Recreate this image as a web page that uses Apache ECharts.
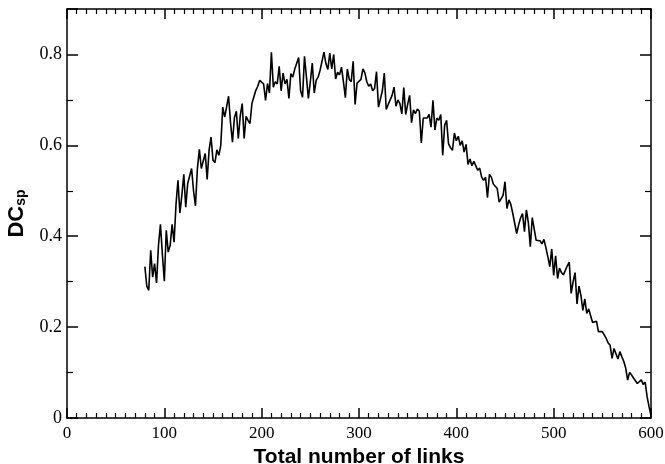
<!DOCTYPE html>
<html>
<head>
<meta charset="utf-8">
<script src="https://cdn.jsdelivr.net/npm/echarts@6/dist/echarts.min.js"></script>
<style>html,body{margin:0;padding:0;background:#fff}#c{width:665px;height:464px}</style>
</head>
<body>
<div id="c"></div>
<script>
// x grid: total number of links, sampled every 2 from 80 to 600
const xStart = 80, xStep = 2;
const dcsp = [
0.333,0.29,0.281,0.369,0.31,0.34,0.297,0.38,0.426,0.36,
0.301,0.413,0.365,0.38,0.426,0.387,0.47,0.523,0.451,0.49,
0.536,0.464,0.516,0.517,0.549,0.5,0.467,0.55,0.591,0.549,
0.545,0.582,0.525,0.59,0.618,0.567,0.562,0.59,0.578,0.6,
0.684,0.662,0.665,0.708,0.65,0.607,0.661,0.675,0.615,0.665,
0.692,0.615,0.664,0.655,0.648,0.692,0.69,0.721,0.73,0.743,
0.742,0.735,0.699,0.736,0.715,0.805,0.728,0.74,0.735,0.774,
0.72,0.759,0.735,0.745,0.703,0.758,0.75,0.768,0.772,0.793,
0.72,0.706,0.796,0.75,0.703,0.74,0.781,0.715,0.743,0.75,
0.765,0.785,0.805,0.78,0.767,0.803,0.768,0.8,0.746,0.761,
0.755,0.772,0.74,0.705,0.768,0.745,0.74,0.785,0.69,0.737,
0.735,0.745,0.768,0.76,0.74,0.73,0.735,0.72,0.725,0.762,
0.684,0.68,0.72,0.759,0.679,0.69,0.7,0.71,0.728,0.686,
0.7,0.692,0.669,0.727,0.668,0.69,0.71,0.65,0.678,0.67,
0.68,0.675,0.605,0.66,0.66,0.66,0.668,0.64,0.699,0.634,
0.66,0.655,0.668,0.578,0.644,0.655,0.603,0.595,0.589,0.627,
0.61,0.62,0.6,0.61,0.585,0.602,0.558,0.57,0.555,0.565,
0.569,0.545,0.55,0.53,0.523,0.53,0.485,0.536,0.53,0.515,
0.51,0.505,0.475,0.478,0.49,0.52,0.461,0.48,0.47,0.45,
0.452,0.406,0.425,0.44,0.45,0.41,0.458,0.43,0.377,0.441,
0.438,0.391,0.392,0.39,0.383,0.393,0.375,0.355,0.333,0.372,
0.314,0.357,0.307,0.33,0.32,0.315,0.318,0.335,0.343,0.274,
0.3,0.32,0.251,0.29,0.27,0.237,0.262,0.23,0.24,0.225,
0.21,0.21,0.213,0.19,0.188,0.19,0.187,0.175,0.165,0.16,
0.131,0.153,0.155,0.13,0.146,0.135,0.125,0.11,0.0835,0.1,
0.095,0.088,0.09,0.076,0.078,0.084,0.074,0.079,0.047,0.025,0.005
];
const links = dcsp.map((_, i) => xStart + i * xStep);
const xTitle = 'Total number of links';
const yTitle = 'DC{s|sp}';

const points = links.map((x, i) => [x, dcsp[i]]);
const serif = '"Liberation Serif","DejaVu Serif",serif';
const sans = '"Liberation Sans",Arial,sans-serif';
const lineStyle = {color:'#000', width:1.5};
const minorStyle = {color:'#000', width:1.2};

function xAx(pos, labels) {
  const a = {
    type:'value', min:0, max:600, interval:100, position:pos,
    axisLine:{show:true, onZero:false, lineStyle},
    axisTick:{show:true, inside:true, length:10, lineStyle},
    minorTick:{show:true, splitNumber:10, length:5, lineStyle:minorStyle},
    splitLine:{show:false},
    axisLabel:labels ? {color:'#000', fontFamily:serif, fontSize:17, margin:7} : {show:false}
  };
  if (labels) {
    a.name = xTitle; a.nameLocation = 'middle'; a.nameGap = 24;
    a.nameTextStyle = {color:'#000', fontFamily:sans, fontWeight:'bold', fontSize:21};
  }
  return a;
}
function yAx(pos, labels) {
  const a = {
    type:'value', min:0, max:0.9, interval:0.2, position:pos,
    axisLine:{show:true, onZero:false, lineStyle},
    axisTick:{show:true, inside:true, length:11, lineStyle},
    minorTick:{show:true, splitNumber:2, length:6, lineStyle:minorStyle},
    splitLine:{show:false},
    axisLabel:labels ? {color:'#000', fontFamily:serif, fontSize:18, margin:5, showMaxLabel:false,
      formatter:v => v === 0 ? '0' : v.toFixed(1)} : {show:false}
  };
  if (labels) {
    a.name = yTitle; a.nameLocation = 'middle'; a.nameGap = 36; a.nameRotate = 90;
    a.nameTextStyle = {color:'#000', fontFamily:sans, fontWeight:'bold', fontSize:22,
      rich:{s:{fontFamily:sans, fontWeight:'bold', fontSize:14, verticalAlign:'bottom', padding:[10,0,0,0]}}};
  }
  return a;
}

const chart = echarts.init(document.getElementById('c'), null, {renderer:'canvas'});
chart.setOption({
  animation:false,
  backgroundColor:'#fff',
  grid:{left:67, right:14, top:9, bottom:46, containLabel:false, outerBoundsMode:'none'},
  xAxis:[xAx('bottom', true), xAx('top', false)],
  yAxis:[yAx('left', true), yAx('right', false)],
  series:[{
    type:'line', data:points, showSymbol:false, symbol:'none',
    lineStyle:{color:'#000', width:1.6}, xAxisIndex:0, yAxisIndex:0
  }]
});
</script>
</body>
</html>
